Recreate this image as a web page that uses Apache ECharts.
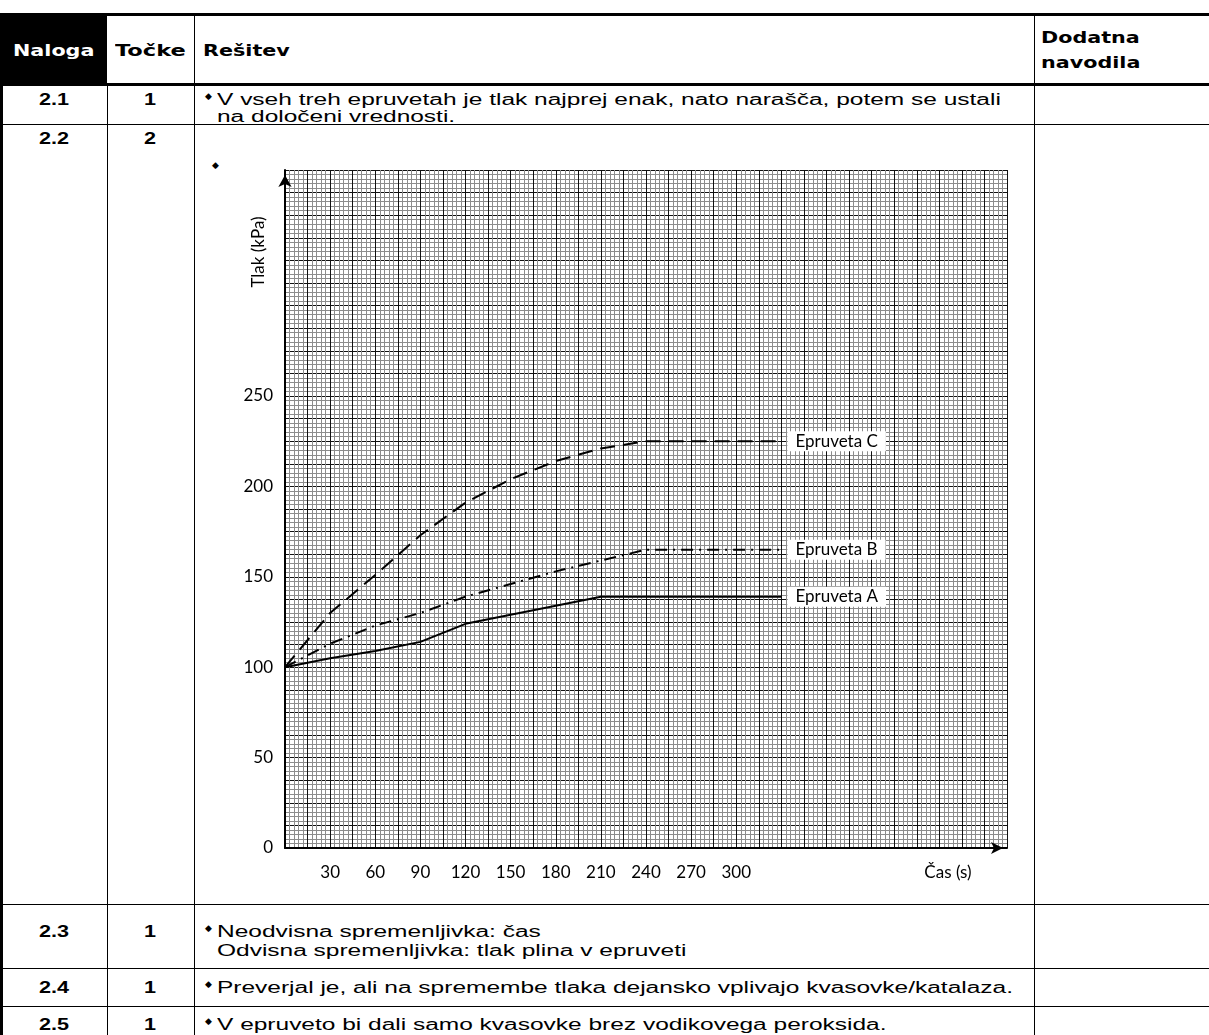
<!DOCTYPE html>
<html><head><meta charset="utf-8">
<script src="https://cdn.jsdelivr.net/npm/echarts@6/dist/echarts.min.js"></script>
<style>
html,body{margin:0;padding:0;background:#fff;width:1209px;height:1035px;overflow:hidden;position:relative;font-family:"Liberation Sans",Arial,sans-serif;}
.ln{position:absolute;background:#000;}
.t{position:absolute;white-space:nowrap;font-size:16px;line-height:18px;height:18px;color:#000;transform-origin:0 50%;}
.b{font-weight:bold;}
.h{font-family:"DejaVu Sans",sans-serif;font-weight:bold;font-size:15px;}
#chart{position:absolute;left:0;top:0;width:1209px;height:1035px;}
</style></head><body>
<div id="table"></div>
<div id="chart"></div>
<script>
// ---- data ----
const headers = ['Naloga', 'Točke', 'Rešitev', 'Dodatna', 'navodila'];
const tasks = ['2.1', '2.2', '2.3', '2.4', '2.5'];
const points = ['1', '2', '1', '1', '1'];
const answer21 = ['V vseh treh epruvetah je tlak najprej enak, nato narašča, potem se ustali', 'na določeni vrednosti.'];
const answer23 = ['Neodvisna spremenljivka: čas', 'Odvisna spremenljivka: tlak plina v epruveti'];
const answer24 = ['Preverjal je, ali na spremembe tlaka dejansko vplivajo kvasovke/katalaza.'];
const answer25 = ['V epruveto bi dali samo kvasovke brez vodikovega peroksida.'];

const timeS = [0, 30, 60, 90, 120, 150, 180, 210, 240, 330];
const epruvetaA = [100, 105, 109, 114, 124, 129, 134, 139, 139, 139];
const epruvetaB = [100, 113, 123, 130, 139, 146, 153, 159, 165, 165];
const epruvetaC = [100, 130, 151, 173, 191, 204, 214, 221, 225, 225];
const seriesNames = ['Epruveta A', 'Epruveta B', 'Epruveta C'];
const xTickLabels = [30, 60, 90, 120, 150, 180, 210, 240, 270, 300];
const yTickLabels = [0, 50, 100, 150, 200, 250];
const xAxisName = 'Čas (s)';
const yAxisName = 'Tlak (kPa)';

// ---- table drawing ----
const tb = document.getElementById('table');
function line(x, y, w, h) {
  const d = document.createElement('div'); d.className = 'ln';
  d.style.left = x + 'px'; d.style.top = y + 'px'; d.style.width = w + 'px'; d.style.height = h + 'px';
  tb.appendChild(d);
}
function text(str, x, y, opt) {
  opt = opt || {};
  const s = document.createElement('span');
  s.className = 't' + (opt.head ? ' h' : '') + (opt.bold ? ' b' : '');
  s.textContent = str;
  if (opt.color) s.style.color = opt.color;
  tb.appendChild(s);
  const sc = opt.scale || 1.53;
  const w = s.offsetWidth * sc;
  const left = opt.align === 'center' ? x - w / 2 : x;
  s.style.left = left + 'px'; s.style.top = (y - 9) + 'px';
  s.style.transform = 'scaleX(' + sc + ')';
}
function bullet(x, y) {
  const s = document.createElement('span'); s.className = 't';
  s.textContent = '◆'; s.style.fontSize = '9px'; s.style.fontFamily = 'DejaVu Sans';
  s.style.left = (x - 4) + 'px'; s.style.top = (y - 9) + 'px';
  tb.appendChild(s);
}
const hb = document.createElement('div'); hb.className = 'ln';
hb.style.left = '0px'; hb.style.top = '16px'; hb.style.width = '107px'; hb.style.height = '67px';
tb.appendChild(hb);
line(0, 13, 1209, 3);
line(0, 83, 1209, 3);
line(0, 16, 3, 1019);
line(107, 83, 1, 952);
line(194, 16, 1, 1019);
line(1034, 16, 1, 1019);
line(0, 124, 1209, 1);
line(0, 904, 1209, 1);
line(0, 968, 1209, 1);
line(0, 1006, 1209, 1);

text(headers[0], 53.5, 51, {head: true, align: 'center', color: '#fff', scale: 1.38});
text(headers[1], 150.5, 51, {head: true, align: 'center', scale: 1.5});
text(headers[2], 203, 51, {head: true, scale: 1.38});
text(headers[3], 1041, 38, {head: true, scale: 1.38});
text(headers[4], 1041, 63, {head: true, scale: 1.38});

const rowY = [100, 139, 932, 988, 1025];
tasks.forEach((t, i) => {
  text(t, 53.5, rowY[i], {bold: true, align: 'center', scale: 1.35});
  text(points[i], 150.5, rowY[i], {bold: true, align: 'center', scale: 1.35});
});
bullet(209, 96); text(answer21[0], 217, 100); text(answer21[1], 217, 117);
bullet(216, 165);
bullet(209, 928); text(answer23[0], 217, 932); text(answer23[1], 217, 951);
bullet(209, 984); text(answer24[0], 217, 988);
bullet(209, 1021); text(answer25[0], 217, 1025);

// ---- chart ----
const chart = echarts.init(document.getElementById('chart'), null, {renderer: 'canvas'});
const font = 'Lato';
const pair = arr => timeS.map((t, i) => [t, arr[i]]);
const mkSeries = (name, data, dash) => ({
  name, type: 'line', data: pair(data), showSymbol: false, smooth: false, z: 5,
  lineStyle: {color: '#000', width: 2, type: dash},
  endLabel: {show: true, formatter: '{a}', color: '#000', fontFamily: font, fontSize: 17,
    backgroundColor: '#fff', padding: [2, 8, 1, 8], distance: 6}
});
chart.setOption({
  animation: false,
  backgroundColor: 'transparent',
  grid: {left: 285, top: 170, width: 722, height: 678, containLabel: false},
  xAxis: {
    type: 'value', min: 0, max: 480, interval: 15,
    axisLine: {show: true, onZero: false, lineStyle: {color: '#000', width: 2},
      symbol: ['none', 'arrow'], symbolSize: [9, 12], symbolOffset: [0, -4]},
    axisTick: {show: false},
    axisLabel: {customValues: xTickLabels, formatter: v => xTickLabels.includes(v) ? String(v) : '',
      margin: 16, color: '#000', fontFamily: font, fontSize: 17},
    splitLine: {show: true, lineStyle: {color: '#111', width: 1}},
    minorTick: {show: false, splitNumber: 5},
    minorSplitLine: {show: true, lineStyle: {color: '#8c8c8c', width: 1}}
  },
  yAxis: {
    type: 'value', min: 0, max: 375, interval: 12.5,
    axisLine: {show: true, onZero: false, lineStyle: {color: '#000', width: 2},
      symbol: ['none', 'arrow'], symbolSize: [10, 12], symbolOffset: [0, -5]},
    axisTick: {show: false},
    axisLabel: {customValues: yTickLabels, formatter: v => yTickLabels.includes(v) ? String(v) : '',
      margin: 12, color: '#000', fontFamily: font, fontSize: 17},
    splitLine: {show: true, lineStyle: {color: '#111', width: 1}},
    minorTick: {show: false, splitNumber: 5},
    minorSplitLine: {show: true, lineStyle: {color: '#8c8c8c', width: 1}}
  },
  graphic: [
    {type: 'text', x: 259, y: 252, rotation: Math.PI / 2,
      style: {text: yAxisName, font: '17px Lato', fill: '#000', align: 'center', verticalAlign: 'middle'}},
    {type: 'text', x: 948, y: 873,
      style: {text: xAxisName, font: '17px Lato', fill: '#000', align: 'center', verticalAlign: 'middle'}}
  ],
  series: [
    mkSeries(seriesNames[0], epruvetaA, 'solid'),
    mkSeries(seriesNames[1], epruvetaB, [12, 6, 2, 6]),
    mkSeries(seriesNames[2], epruvetaC, [15, 8])
  ]
});
</script>
</body></html>
